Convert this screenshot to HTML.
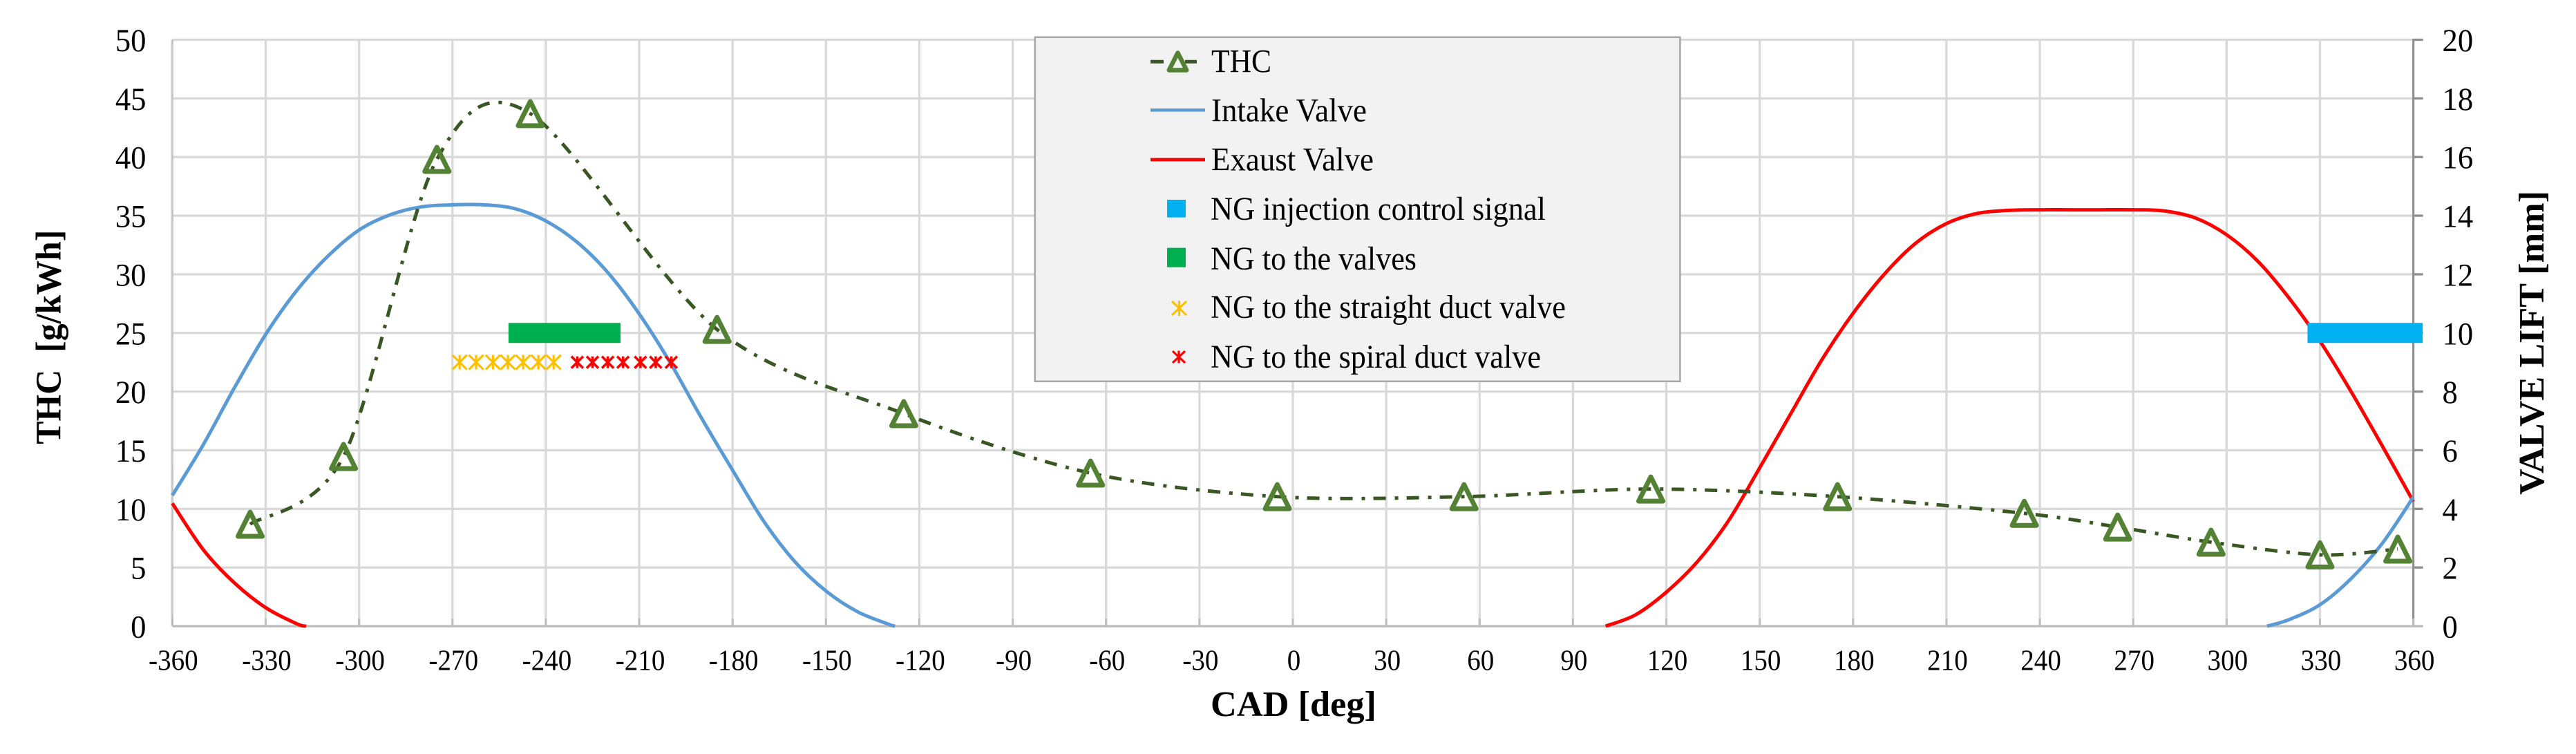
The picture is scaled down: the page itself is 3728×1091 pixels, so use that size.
<!DOCTYPE html>
<html lang="en">
<head>
<meta charset="utf-8">
<title>THC and valve lift versus crank angle</title>
<style>
  html, body { margin: 0; padding: 0; background: #ffffff; }
  svg { display: block; font-family: "Liberation Serif", serif; fill: #000000; }
</style>
</head>
<body>
<svg id="chart" xmlns="http://www.w3.org/2000/svg" width="3728" height="1091" viewBox="0 0 3728 1091">
  <rect x="0" y="0" width="3728" height="1091" fill="#ffffff"/>
  <g id="grid"></g>
  <g id="axes"></g>
  <g id="xticks"></g>
  <g id="yticks"></g>
  <g id="y2ticks"></g>
  <g id="series"></g>

  <text x="1752" y="1036" font-size="52" font-weight="bold" textLength="240" lengthAdjust="spacingAndGlyphs">CAD [deg]</text>
  <text transform="translate(87.4,642.7) rotate(-90)" font-size="52" font-weight="bold" textLength="310" lengthAdjust="spacingAndGlyphs">THC&#160;&#160;[g/kWh]</text>
  <text transform="translate(3681,716) rotate(-90)" font-size="52" font-weight="bold" textLength="440" lengthAdjust="spacingAndGlyphs">VALVE LIFT [mm]</text>

  <g>
    <rect x="1497.8" y="53.8" width="933.6" height="498" fill="#f2f2f2" stroke="#a6a6a6" stroke-width="2.5"/>
    <g>
      <line x1="1665" y1="89.3" x2="1684" y2="89.3" stroke="#385723" stroke-width="5"/>
      <line x1="1715" y1="89.3" x2="1732" y2="89.3" stroke="#385723" stroke-width="5"/>
      <polygon points="1704.5,76.5 1717.2,101.5 1691.8,101.5" fill="none" stroke="#548235" stroke-width="6.5" stroke-linejoin="round"/>
      <text x="1753" y="104.5" font-size="48" textLength="87" lengthAdjust="spacingAndGlyphs">THC</text>
    </g>
    <g>
      <line x1="1665" y1="159.3" x2="1744" y2="159.3" stroke="#5b9bd5" stroke-width="4.7"/>
      <text x="1753" y="175.7" font-size="48" textLength="225" lengthAdjust="spacingAndGlyphs">Intake Valve</text>
    </g>
    <g>
      <line x1="1665" y1="231" x2="1744" y2="231" stroke="#ff0000" stroke-width="4.7"/>
      <text x="1753" y="246.3" font-size="48" textLength="235" lengthAdjust="spacingAndGlyphs">Exaust Valve</text>
    </g>
    <g>
      <rect x="1689" y="289" width="27" height="25.6" fill="#00b0f0"/>
      <text x="1752" y="318" font-size="48" textLength="485" lengthAdjust="spacingAndGlyphs">NG injection control signal</text>
    </g>
    <g>
      <rect x="1689" y="358.6" width="27" height="28" fill="#00b050"/>
      <text x="1752" y="390" font-size="48" textLength="298" lengthAdjust="spacingAndGlyphs">NG to the valves</text>
    </g>
    <g>
      <path d="M1696,436 L1717,456 M1717,436 L1696,456 M1706.5,435 L1706.5,457" fill="none" stroke="#ffc000" stroke-width="3.2"/>
      <text x="1752" y="460" font-size="48" textLength="514" lengthAdjust="spacingAndGlyphs">NG to the straight duct valve</text>
    </g>
    <g>
      <path d="M1697,508 L1715,525 M1715,508 L1697,525 M1706,507.5 L1706,525.5" fill="none" stroke="#ff0000" stroke-width="3.2"/>
      <text x="1752" y="532" font-size="48" textLength="478" lengthAdjust="spacingAndGlyphs">NG to the spiral duct valve</text>
    </g>
  </g>
</svg>
<script>
// Axis ticks
const xTicks = [-360,-330,-300,-270,-240,-210,-180,-150,-120,-90,-60,-30,0,30,60,90,120,150,180,210,240,270,300,330,360];
const yTicks = [0,5,10,15,20,25,30,35,40,45,50];
const y2Ticks = [0,2,4,6,8,10,12,14,16,18,20];

// THC [g/kWh], primary axis
const thcCad = [-335,-305,-275,-245,-185,-125,-65,-5,55,115,175,235,265,295,330,355];
const thcValues = [8.69,14.47,39.8,43.7,25.3,18.12,13.05,11.04,11.04,11.69,11.04,9.62,8.45,7.16,6.08,6.57];

// Intake valve lift [mm], secondary axis
const intakeCadA = [-360,-350,-340,-330,-320,-310,-300,-290,-280,-270,-260,-250,-240,-230,-220,-210,-200,-190,-180,-170,-160,-150,-140,-130,-127.8];
const intakeLiftA = [4.46,6.2,8.14,9.95,11.45,12.62,13.51,14.03,14.3,14.37,14.37,14.24,13.82,13.1,12.05,10.65,8.98,7.1,5.32,3.58,2.2,1.2,0.5,0.07,0];
const intakeCadB = [313,320,330,340,350,360];
const intakeLiftB = [0,0.22,0.73,1.62,2.82,4.4];

// Exaust valve lift [mm], secondary axis
const exaustCadA = [-360,-350,-340,-330,-320,-317];
const exaustLiftA = [4.19,2.6,1.47,0.63,0.08,0];
const exaustCadB = [100.5,110,120,130,140,150,160,170,180,190,200,210,220,230,240,250,260,270,280,290,300,310,320,330,340,350,360];
const exaustLiftB = [0,0.38,1.16,2.2,3.6,5.4,7.25,9.09,10.67,12,13.05,13.73,14.08,14.18,14.2,14.2,14.2,14.2,14.16,13.92,13.35,12.45,11.2,9.72,8,6.15,4.25];

// Natural gas timing bars and markers, primary axis
const ngValvesCad = [-252,-216];
const ngValvesLevel = [25,25];
const ngInjectionCad = [326,363];
const ngInjectionLevel = [25,25];
const ngStraightCad = [-267.7,-262.4,-257,-252.2,-247.3,-242.4,-237.5];
const ngStraightLevel = [22.5,22.5,22.5,22.5,22.5,22.5,22.5];
const ngSpiralCad = [-229.9,-225,-220.1,-215.2,-209.6,-204.7,-199.7];
const ngSpiralLevel = [22.5,22.5,22.5,22.5,22.5,22.5,22.5];

const plotLeft = 249.4, plotRight = 3492.6, plotTop = 57.5, plotBottom = 906;
const svgNS = 'http://www.w3.org/2000/svg';

function xScale(cad) { return plotLeft + (cad + 360) / 720 * (plotRight - plotLeft); }
function yScale(v) { return plotBottom - v / 50 * (plotBottom - plotTop); }
function y2Scale(v) { return plotBottom - v / 20 * (plotBottom - plotTop); }

function make(tag, parent, attrs) {
  const el = document.createElementNS(svgNS, tag);
  for (const k in attrs) el.setAttribute(k, attrs[k]);
  parent.appendChild(el);
  return el;
}

function smoothPath(xs, ys, k) {
  let d = 'M' + xs[0].toFixed(2) + ',' + ys[0].toFixed(2);
  for (let i = 0; i < xs.length - 1; i++) {
    const p = Math.max(i - 1, 0), n = Math.min(i + 2, xs.length - 1);
    const c1x = xs[i] + (xs[i + 1] - xs[p]) / k, c1y = ys[i] + (ys[i + 1] - ys[p]) / k;
    const c2x = xs[i + 1] - (xs[n] - xs[i]) / k, c2y = ys[i + 1] - (ys[n] - ys[i]) / k;
    d += ' C' + c1x.toFixed(2) + ',' + c1y.toFixed(2) + ' ' + c2x.toFixed(2) + ',' + c2y.toFixed(2) + ' ' + xs[i + 1].toFixed(2) + ',' + ys[i + 1].toFixed(2);
  }
  return d;
}

const gridG = document.getElementById('grid');
const axesG = document.getElementById('axes');
const xTickG = document.getElementById('xticks');
const yTickG = document.getElementById('yticks');
const y2TickG = document.getElementById('y2ticks');
const seriesG = document.getElementById('series');

// Gridlines
xTicks.forEach(function (t) {
  const el = make('line', gridG, { x1: xScale(t), y1: plotTop, x2: xScale(t), y2: plotBottom, stroke: '#d9d9d9', 'stroke-width': 3.3 });
  
  
});
yTicks.forEach(function (t) {
  if (t === 0) return;
  const el = make('line', gridG, { x1: plotLeft, y1: yScale(t), x2: plotRight, y2: yScale(t), stroke: '#d9d9d9', 'stroke-width': 3.3 });
  
  
});

// Axis lines and tick marks
const leftAxis = make('line', axesG, { x1: plotLeft, y1: plotTop, x2: plotLeft, y2: plotBottom, stroke: '#c8c8c8', 'stroke-width': 3.3 });


const rightAxis = make('line', axesG, { x1: plotRight, y1: plotTop - 1.5, x2: plotRight, y2: plotBottom, stroke: '#8e8e8e', 'stroke-width': 3 });


const bottomAxis = make('line', axesG, { x1: plotLeft, y1: plotBottom, x2: plotRight + 14, y2: plotBottom, stroke: '#bfbfbf', 'stroke-width': 3.5 });


xTicks.forEach(function (t) {
  const el = make('line', axesG, { x1: xScale(t), y1: plotBottom - 11, x2: xScale(t), y2: plotBottom, stroke: '#bfbfbf', 'stroke-width': 3 });
  
  
});
y2Ticks.forEach(function (t) {
  if (t === 0) return;
  const el = make('line', axesG, { x1: plotRight, y1: y2Scale(t), x2: plotRight + 14, y2: y2Scale(t), stroke: '#8e8e8e', 'stroke-width': 3.3 });
  
  
});

// Tick labels
xTicks.forEach(function (t) {
  const el = make('text', xTickG, { transform: 'translate(' + (xScale(t) + 1.5) + ',969.5) scale(0.93,1)', 'font-size': 42, 'text-anchor': 'middle' });
  el.textContent = String(t);
  
  
});
yTicks.forEach(function (t) {
  const el = make('text', yTickG, { transform: 'translate(211.5,' + (yScale(t) + 16.5) + ') scale(0.95,1)', 'font-size': 47, 'text-anchor': 'end' });
  el.textContent = String(t);
  
  
});
y2Ticks.forEach(function (t) {
  const el = make('text', y2TickG, { transform: 'translate(3534.5,' + (y2Scale(t) + 16.5) + ') scale(0.95,1)', 'font-size': 47, 'text-anchor': 'start' });
  el.textContent = String(t);
  
  
});

// Valve lift curves
const intakeA = make('path', seriesG, { d: smoothPath(intakeCadA.map(xScale), intakeLiftA.map(y2Scale), 6), fill: 'none', stroke: '#5b9bd5', 'stroke-width': 5 });


const exaustA = make('path', seriesG, { d: smoothPath(exaustCadA.map(xScale), exaustLiftA.map(y2Scale), 6), fill: 'none', stroke: '#ff0000', 'stroke-width': 5 });


const exaustB = make('path', seriesG, { d: smoothPath(exaustCadB.map(xScale), exaustLiftB.map(y2Scale), 6), fill: 'none', stroke: '#ff0000', 'stroke-width': 5 });


const intakeB = make('path', seriesG, { d: smoothPath(intakeCadB.map(xScale), intakeLiftB.map(y2Scale), 6), fill: 'none', stroke: '#5b9bd5', 'stroke-width': 5 });



// THC curve and markers
const thcLine = make('path', seriesG, { d: smoothPath(thcCad.map(xScale), thcValues.map(yScale), 6.6), fill: 'none', stroke: '#385723', 'stroke-width': 5, 'stroke-dasharray': '18 13 5 12' });


thcCad.forEach(function (c, i) {
  const x = xScale(c), y = yScale(thcValues[i]);
  const pts = x + ',' + (y - 17.5) + ' ' + (x + 17.5) + ',' + (y + 17.5) + ' ' + (x - 17.5) + ',' + (y + 17.5);
  const el = make('polygon', seriesG, { points: pts, fill: 'none', stroke: '#548235', 'stroke-width': 7, 'stroke-linejoin': 'round' });
  
  
});

// NG timing bars
const valvesBar = make('line', seriesG, { x1: xScale(ngValvesCad[0]), y1: yScale(ngValvesLevel[0]), x2: xScale(ngValvesCad[1]), y2: yScale(ngValvesLevel[1]), stroke: '#00b050', 'stroke-width': 29 });


const injectionBar = make('line', seriesG, { x1: xScale(ngInjectionCad[0]), y1: yScale(ngInjectionLevel[0]), x2: xScale(ngInjectionCad[1]), y2: yScale(ngInjectionLevel[1]), stroke: '#00b0f0', 'stroke-width': 29 });



// NG star markers
function starPath(x, y, r) {
  return 'M' + (x - r) + ',' + (y - r) + ' L' + (x + r) + ',' + (y + r) +
         ' M' + (x + r) + ',' + (y - r) + ' L' + (x - r) + ',' + (y + r) +
         ' M' + x + ',' + (y - r) + ' L' + x + ',' + (y + r);
}
ngStraightCad.forEach(function (c, i) {
  const el = make('path', seriesG, { d: starPath(xScale(c), yScale(ngStraightLevel[i]), 10.5), fill: 'none', stroke: '#ffc000', 'stroke-width': 3.2 });
  
  
});
ngSpiralCad.forEach(function (c, i) {
  const el = make('path', seriesG, { d: starPath(xScale(c), yScale(ngSpiralLevel[i]), 8.5), fill: 'none', stroke: '#ff0000', 'stroke-width': 3.6 });
  
  
});
</script>
</body>
</html>
